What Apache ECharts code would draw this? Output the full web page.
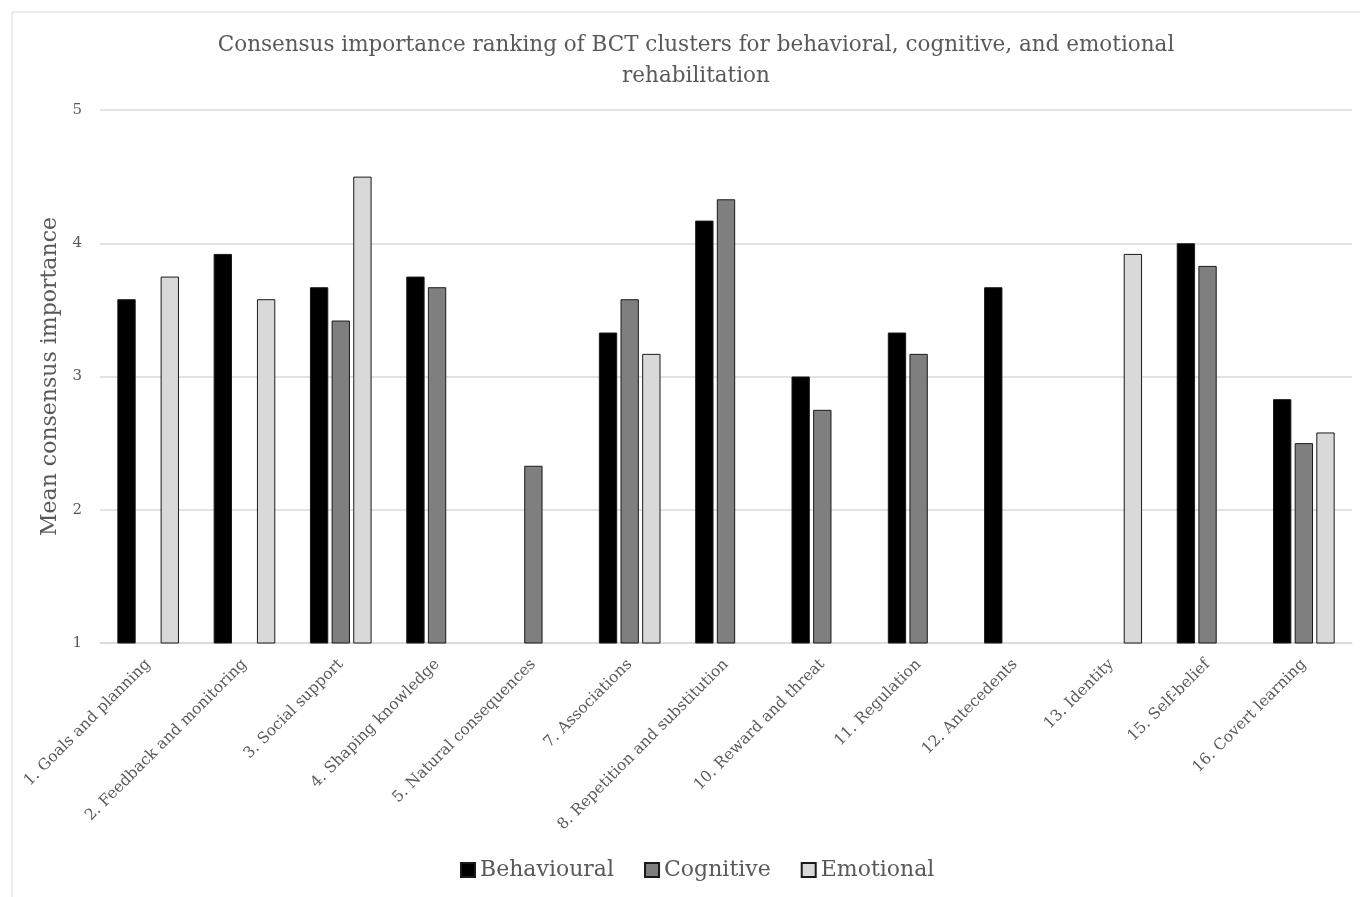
<!DOCTYPE html>
<html>
<head>
<meta charset="utf-8">
<script src="https://cdn.jsdelivr.net/npm/echarts@6/dist/echarts.min.js"></script>
<style>
  html, body { margin: 0; padding: 0; background: #ffffff; }
  #chart { width: 1360px; height: 897px; }
</style>
</head>
<body>
<div id="chart"></div>
<script>
// BCT cluster names on the category axis
const categories = [
  '1. Goals and planning',
  '2. Feedback and monitoring',
  '3. Social support',
  '4. Shaping knowledge',
  '5. Natural consequences',
  '7. Associations',
  '8. Repetition and substitution',
  '10. Reward and threat',
  '11. Regulation',
  '12. Antecedents',
  '13. Identity',
  '15. Self-belief',
  '16. Covert learning'
];

// Mean consensus importance per rehabilitation domain (null = not rated)
const behavioural = [3.58, 3.92, 3.67, 3.75, null, 3.33, 4.17, 3.00, 3.33, 3.67, null, 4.00, 2.83];
const cognitive   = [null, null, 3.42, 3.67, 2.33, 3.58, 4.33, 2.75, 3.17, null, null, 3.83, 2.50];
const emotional   = [3.75, 3.58, 4.50, null, null, 3.17, null, null, null, null, 3.92, null, 2.58];

const yTicks = { min: 1, max: 5, interval: 1 };

const FONT = '"DejaVu Serif", "Liberation Serif", serif';
const TEXT = '#595959';

const chart = echarts.init(document.getElementById('chart'), null, { renderer: 'canvas' });

function barSeries(name, data, fill) {
  return {
    name: name,
    type: 'bar',
    data: data,
    barGap: '18%',
    barCategoryGap: '36%',
    itemStyle: { color: fill, borderColor: '#1a1a1a', borderWidth: 1 },
    emphasis: { disabled: true }
  };
}

chart.setOption({
  backgroundColor: '#ffffff',
  animation: false,
  graphic: [{
    type: 'rect',
    shape: { x: 12, y: 12, width: 1400, height: 1000 },
    style: { fill: 'none', stroke: '#d9d9d9', lineWidth: 1 },
    silent: true,
    z: -1
  }],
  title: {
    text: 'Consensus importance ranking of BCT clusters for behavioral, cognitive, and emotional\nrehabilitation',
    left: 691,
    top: 25,
    textAlign: 'center',
    textStyle: {
      fontFamily: FONT,
      fontSize: 21.5,
      fontWeight: 'normal',
      color: TEXT,
      lineHeight: 31
    }
  },
  legend: {
    bottom: 11,
    left: 455,
    itemWidth: 14,
    itemHeight: 14,
    itemGap: 30,
    icon: 'rect',
    textStyle: { fontFamily: FONT, fontSize: 22, color: TEXT },
    data: ['Behavioural', 'Cognitive', 'Emotional']
  },
  grid: { left: 100, right: 8, top: 110, bottom: 254, containLabel: false },
  xAxis: {
    type: 'category',
    data: categories,
    axisLine: { lineStyle: { color: '#d9d9d9', width: 1.5 } },
    axisTick: { show: false },
    axisLabel: {
      rotate: 45,
      interval: 0,
      margin: 19,
      fontFamily: FONT,
      fontSize: 15.5,
      color: TEXT
    }
  },
  yAxis: {
    type: 'value',
    min: yTicks.min,
    max: yTicks.max,
    interval: yTicks.interval,
    name: 'Mean consensus importance',
    nameLocation: 'middle',
    nameGap: 38,
    nameTextStyle: { fontFamily: FONT, fontSize: 22, color: TEXT },
    axisLine: { show: false },
    axisTick: { show: false },
    axisLabel: { fontFamily: FONT, fontSize: 15, color: TEXT, margin: 18 },
    splitLine: { lineStyle: { color: '#d9d9d9', width: 1.5 } }
  },
  series: [
    barSeries('Behavioural', behavioural, '#000000'),
    barSeries('Cognitive', cognitive, '#7f7f7f'),
    barSeries('Emotional', emotional, '#d9d9d9')
  ]
});
</script>
</body>
</html>
